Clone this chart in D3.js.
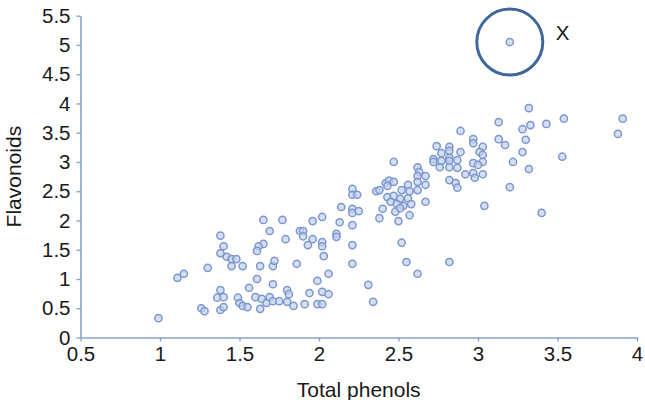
<!DOCTYPE html>
<html>
<head>
<meta charset="utf-8">
<script src="https://cdn.jsdelivr.net/npm/d3@7/dist/d3.min.js"></script>
<style>
  html, body { margin: 0; padding: 0; background: #ffffff; }
  svg { display: block; }
  text { font-family: "Liberation Sans", Arial, Helvetica, sans-serif; fill: #1a1a1a; }
</style>
</head>
<body>
<svg id="chart" width="645" height="400"></svg>
<script>
// ---- data ----
const totalPhenols = [
  0.99,1.11,1.15,1.30,1.38,1.40,1.38,1.42,1.45,1.48,1.45,1.52,1.65,1.77,1.69,1.79,1.65,1.62,1.61,
  1.71,1.72,1.63,1.61,1.71,1.56,1.80,1.81,1.38,1.36,1.40,1.26,1.28,1.38,1.40,1.49,1.50,1.52,1.55,
  1.60,1.64,1.67,1.63,1.69,1.71,1.75,1.80,
  1.96,2.02,1.88,1.90,1.90,1.96,2.02,1.93,2.02,2.03,1.86,2.06,1.99,1.94,2.02,2.06,1.91,1.99,2.02,1.84,
  2.21,2.21,2.24,2.36,2.14,2.21,2.21,2.25,2.13,2.21,2.11,2.11,2.21,2.52,2.55,2.82,2.62,2.21,2.31,2.34,
  2.47,2.62,2.63,2.62,2.67,2.62,2.62,2.67,2.56,2.52,2.57,2.42,2.44,2.47,2.43,2.38,2.43,2.47,2.51,2.56,
  2.45,2.49,2.53,2.58,2.67,2.40,2.48,2.51,2.57,2.38,2.50,
  2.89,2.97,2.97,2.74,2.82,2.82,2.89,2.77,3.03,3.01,3.03,2.72,2.72,2.77,2.82,2.82,2.87,2.97,3.03,3.00,
  2.76,2.82,2.87,2.92,2.97,2.98,3.03,2.82,2.86,2.87,3.04,
  3.32,3.54,3.91,3.88,3.13,3.28,3.33,3.43,3.13,3.17,3.30,3.28,3.22,3.53,3.32,3.20,3.40,
  3.20
];
const flavonoids = [
  0.33,1.02,1.09,1.19,1.74,1.56,1.44,1.38,1.34,1.34,1.22,1.22,2.01,2.01,1.82,1.68,1.60,1.56,1.48,
  1.22,1.31,1.22,1.00,0.91,0.85,0.81,0.74,0.81,0.68,0.69,0.50,0.45,0.47,0.52,0.68,0.59,0.54,0.52,
  0.69,0.66,0.59,0.49,0.69,0.62,0.62,0.61,
  1.99,2.06,1.82,1.82,1.73,1.68,1.63,1.58,1.56,1.39,1.26,1.09,0.97,0.76,0.78,0.74,0.57,0.57,0.57,0.54,
  2.54,2.44,2.44,2.50,2.23,2.20,2.13,2.16,1.97,1.92,1.77,1.72,1.58,1.62,1.29,1.29,1.09,1.26,0.90,0.61,
  3.00,2.91,2.83,2.76,2.76,2.66,2.52,2.61,2.61,2.52,2.50,2.64,2.68,2.66,2.59,2.52,2.40,2.42,2.37,2.38,
  2.32,2.28,2.25,2.28,2.32,2.20,2.15,2.21,2.09,2.04,1.99,
  3.53,3.39,3.32,3.27,3.26,3.19,3.17,3.15,3.26,3.17,3.12,3.05,3.00,3.02,3.07,3.02,3.03,2.98,3.00,2.95,
  2.91,2.91,2.90,2.79,2.81,2.73,2.79,2.69,2.64,2.56,2.25,
  3.92,3.74,3.74,3.48,3.68,3.56,3.63,3.65,3.39,3.29,3.38,3.17,3.00,3.09,2.88,2.57,2.13,
  5.05
];
const outlierIndex = flavonoids.length - 1;
const outlierLabel = "X";
const xTickLabels = ["0.5","1","1.5","2","2.5","3","3.5","4"];
const yTickLabels = ["0","0.5","1","1.5","2","2.5","3","3.5","4","4.5","5","5.5"];
const xTitle = "Total phenols";
const yTitle = "Flavonoids";

// ---- layout ----
const svg = d3.select("#chart");
const plotLeft = 80.5, plotRight = 637, plotTop = 15.7, plotBottom = 337.5;
const x = d3.scaleLinear().domain([0.5, 4]).range([plotLeft, plotRight]);
const y = d3.scaleLinear().domain([0, 5.5]).range([plotBottom, plotTop]);
const axisColor = "#8aa2cc";
const tickFont = 20.5, titleFont = 21;

// x axis
const gx = svg.append("g").attr("transform", `translate(0,${plotBottom})`)
  .call(d3.axisBottom(x).tickValues(xTickLabels.map(Number))
    .tickFormat((d, i) => xTickLabels[i]).tickSize(4).tickSizeOuter(0).tickPadding(5));
gx.select(".domain").attr("stroke", axisColor).attr("stroke-width", 1.6);
gx.selectAll(".tick line").attr("stroke", axisColor).attr("stroke-width", 1.4);
gx.selectAll(".tick text").attr("font-size", tickFont).attr("fill", "#1a1a1a")
  .attr("font-family", "Liberation Sans, Arial, sans-serif");

// y axis
const gy = svg.append("g").attr("transform", `translate(${plotLeft},0)`)
  .call(d3.axisLeft(y).tickValues(yTickLabels.map(Number))
    .tickFormat((d, i) => yTickLabels[i]).tickSize(4).tickSizeOuter(0).tickPadding(6));
gy.select(".domain").attr("stroke", axisColor).attr("stroke-width", 1.6);
gy.selectAll(".tick line").attr("stroke", axisColor).attr("stroke-width", 1.4);
gy.selectAll(".tick text").attr("font-size", tickFont).attr("fill", "#1a1a1a")
  .attr("font-family", "Liberation Sans, Arial, sans-serif");

// titles
svg.append("text").attr("x", (plotLeft + plotRight) / 2).attr("y", 397)
  .attr("text-anchor", "middle").attr("font-size", titleFont).text(xTitle);
svg.append("text").attr("transform", `translate(21,${(plotTop + plotBottom) / 2}) rotate(-90)`)
  .attr("text-anchor", "middle").attr("font-size", titleFont).text(yTitle);

// points
const pts = totalPhenols.map((v, i) => ({ x: v, y: flavonoids[i] }));
svg.append("g").selectAll("circle").data(pts).join("circle")
  .attr("cx", d => x(d.x)).attr("cy", d => y(d.y)).attr("r", 3.6)
  .attr("fill", "#c3d1ee").attr("fill-opacity", 0.7)
  .attr("stroke", "#7c97cc").attr("stroke-width", 1.5);

// outlier annotation
const o = pts[outlierIndex];
svg.append("circle").attr("cx", x(o.x)).attr("cy", y(o.y)).attr("r", 33)
  .attr("fill", "none").attr("stroke", "#3f679b").attr("stroke-width", 3);
svg.append("text").attr("x", x(o.x) + 46).attr("y", y(o.y) - 2)
  .attr("font-size", tickFont).text(outlierLabel);
</script>
</body>
</html>
